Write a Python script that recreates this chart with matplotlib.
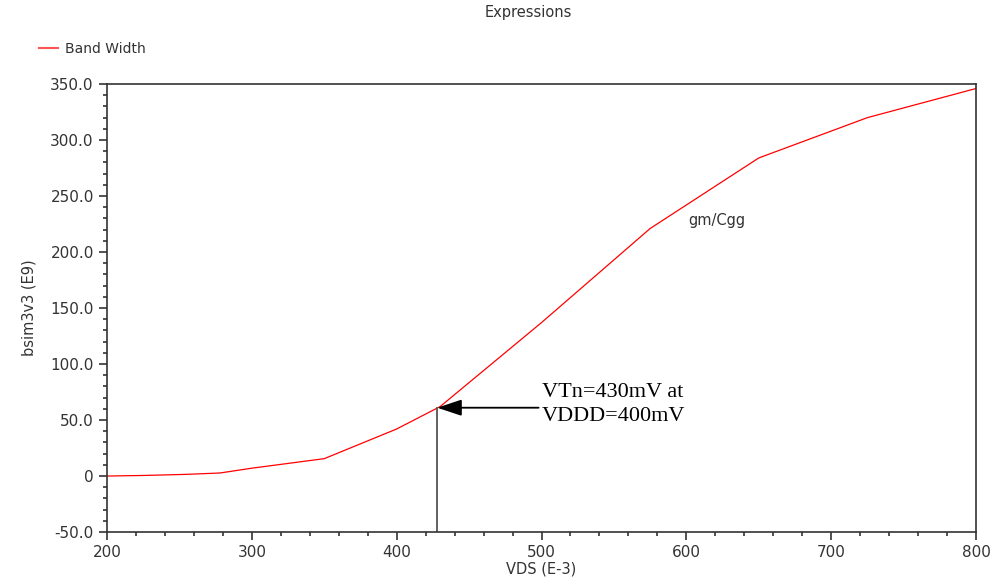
import matplotlib
matplotlib.use("Agg")
import matplotlib.pyplot as plt
from matplotlib.ticker import MultipleLocator, FuncFormatter

plt.rcParams["font.family"] = ["DejaVu Sans"]

# Data
vds = [200, 225, 255, 278, 300, 350, 400, 430, 500, 575, 650, 725, 800]
bandwidth = [0, 0.5, 1.5, 2.7, 7, 15.5, 42, 62, 137, 221, 284, 320, 346]
vtn_x = 428
vtn_y = 61
series_label = "Band Width"
curve_label = "gm/Cgg"
annot_text = "VTn=430mV at\nVDDD=400mV"

fig = plt.figure(figsize=(9.99, 5.84), dpi=100)
ax = fig.add_axes([0.1071, 0.089, 0.8699, 0.7671])

ax.plot(vds, bandwidth, color="#ff0000", lw=0.9, label=series_label)

ax.set_xlim(200, 800)
ax.set_ylim(-50, 350)
ax.xaxis.set_major_locator(MultipleLocator(100))
ax.xaxis.set_minor_locator(MultipleLocator(20))
ax.yaxis.set_major_locator(MultipleLocator(50))
ax.yaxis.set_minor_locator(MultipleLocator(10))

def yfmt(v, pos):
    if abs(v) < 1e-9:
        return "0"
    return "%.1f" % v
ax.yaxis.set_major_formatter(FuncFormatter(yfmt))

ax.tick_params(axis="both", which="major", direction="out", length=6, width=1.2,
               labelsize=11, labelcolor="#333333", color="#333333")
ax.tick_params(axis="both", which="minor", direction="out", length=3, width=1.2,
               color="#333333")
ax.tick_params(top=False, right=False, which="both")
for side in ["left", "bottom", "top", "right"]:
    ax.spines[side].set_linewidth(1.2)
    ax.spines[side].set_color("#333333")

ax.set_xlabel("VDS (E-3)", fontsize=10.5, color="#333333", labelpad=1)
ax.set_ylabel("bsim3v3 (E9)", fontsize=10.5, color="#333333", labelpad=10)

fig.text(0.529, 0.978, "Expressions", ha="center", va="center", fontsize=10.5,
         color="#333333")

fig.legend(loc="center left", bbox_to_anchor=(0.027, 0.916), frameon=False,
           fontsize=10, handlelength=1.3, handletextpad=0.55)
leg = fig.legends[0]
for t in leg.get_texts():
    t.set_color("#333333")
for l in leg.get_lines():
    l.set_color("#ff5555")
    l.set_linewidth(1.5)

ax.text(601, 228, curve_label, fontsize=10.5, color="#333333", ha="left", va="center")

# vertical marker line
ax.plot([vtn_x, vtn_x], [-50, vtn_y], color="#555555", lw=1.3)
# arrow
ax.annotate("", xy=(vtn_x, vtn_y), xytext=(498, vtn_y),
            arrowprops=dict(arrowstyle="-|>,head_length=1.5,head_width=0.5",
                            color="black", lw=1.3, shrinkA=0, shrinkB=0))
ax.text(500.5, 64, annot_text, family="Liberation Serif", fontsize=16,
        ha="left", va="center", color="black", linespacing=1.4)

fig.savefig("out.png", dpi=100)
